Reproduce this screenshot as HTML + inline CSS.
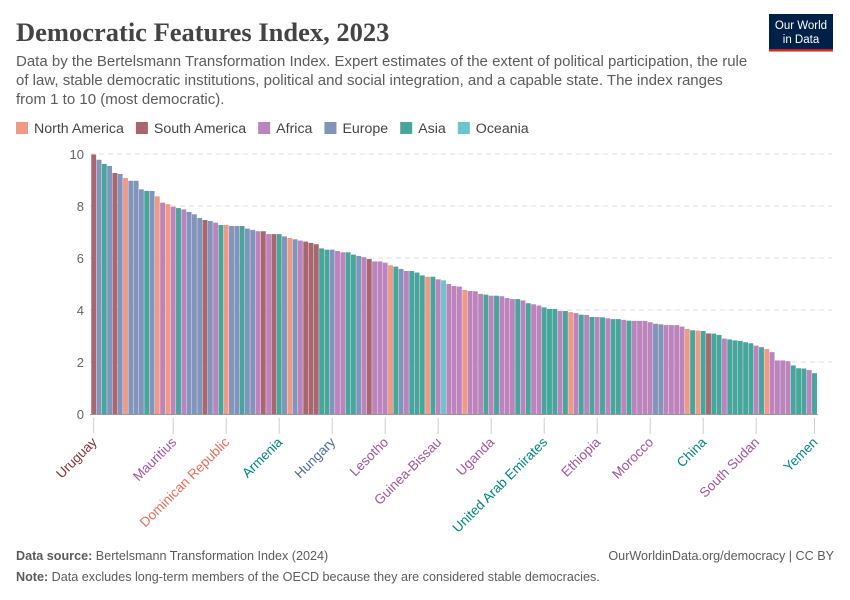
<!DOCTYPE html>
<html><head><meta charset="utf-8"><style>
body{margin:0;width:850px;height:600px;background:#fff;font-family:"Liberation Sans",sans-serif;overflow:hidden}
svg{display:block}
</style></head><body>
<svg id="chart" width="850" height="600">
<text x="16" y="41" font-family="Liberation Serif,serif" font-size="26.5" font-weight="bold" fill="#444">Democratic Features Index, 2023</text>
<g><rect x="769" y="14" width="64" height="37" fill="#002147"/><rect x="769" y="49" width="64" height="2.5" fill="#ce261e"/>
<text x="801" y="29" text-anchor="middle" fill="#fff" font-size="11.5">Our World</text><text x="801" y="43" text-anchor="middle" fill="#fff" font-size="11.5">in Data</text></g>
<g font-size="15" fill="#5b5b5b">
<text x="16" y="66">Data by the Bertelsmann Transformation Index. Expert estimates of the extent of political participation, the rule</text>
<text x="16" y="85">of law, stable democratic institutions, political and social integration, and a capable state. The index ranges</text>
<text x="16" y="104">from 1 to 10 (most democratic).</text></g>
<g id="legend" font-size="14.2" fill="#444"></g>
<g id="grid"></g><g id="bars"></g><g id="labels"></g>
<g font-size="12.6" fill="#5b5b5b">
<text x="16" y="560"><tspan font-weight="bold">Data source:</tspan> Bertelsmann Transformation Index (2024)</text>
<text x="834" y="560" text-anchor="end">OurWorldinData.org/democracy | CC BY</text>
<text x="16" y="581"><tspan font-weight="bold">Note:</tspan> Data excludes long-term members of the OECD because they are considered stable democracies.</text></g>
</svg>
<script>
const regions=["N","S","F","E","A","O"];
const regionNames=["North America","South America","Africa","Europe","Asia","Oceania"];
const barCols={N:"#ee9a87",S:"#a8666e",F:"#bc84bc",E:"#8094bc",A:"#48a59c",O:"#6cc3cc"};
const labCols={N:"#e56e5a",S:"#883039",F:"#a2559c",E:"#4c6a9c",A:"#00847e",O:"#38aaba"};
const barRegions=("SEAESENEEE"+"AENFNFAFEE"+"ESEFANEEAE"+"EFSFSAENEF"+"SSSAAEFFAA"+"EFSFFFNAEF"+"AAANAFOFFF"+"NFFFAFAFFF"+"AFAFFAAAFA"+"NFAFAFAFAA"+"FAFFFFEEFF"+"FFNANASAAF"+"AAAAAFANFF"+"FFAAAFA").split("");
const values=[9.98,9.78,9.62,9.54,9.27,9.23,9.08,8.97,8.97,8.64,8.58,8.58,8.37,8.13,8.07,7.97,7.92,7.87,7.77,7.68,7.54,7.46,7.42,7.36,7.27,7.27,7.23,7.23,7.23,7.13,7.08,7.03,7.03,6.92,6.92,6.92,6.83,6.77,6.72,6.67,6.63,6.58,6.53,6.37,6.32,6.32,6.27,6.22,6.22,6.13,6.08,6.03,5.96,5.87,5.87,5.82,5.72,5.67,5.58,5.5,5.5,5.44,5.33,5.28,5.28,5.18,5.14,5.0,4.92,4.9,4.77,4.73,4.72,4.62,4.59,4.55,4.55,4.53,4.46,4.42,4.42,4.37,4.26,4.22,4.17,4.1,4.04,4.04,3.96,3.96,3.92,3.88,3.82,3.81,3.73,3.73,3.72,3.68,3.65,3.65,3.62,3.59,3.58,3.58,3.58,3.53,3.47,3.45,3.42,3.42,3.42,3.36,3.27,3.22,3.21,3.19,3.1,3.09,3.04,2.9,2.87,2.83,2.81,2.76,2.72,2.63,2.57,2.5,2.38,2.06,2.06,2.03,1.87,1.76,1.75,1.69,1.57];
const labelIdx=[0,15,25,35,45,55,65,75,85,95,105,115,125,136];
const labelNames=["Uruguay","Mauritius","Dominican Republic","Armenia","Hungary","Lesotho","Guinea-Bissau","Uganda","United Arab Emirates","Ethiopia","Morocco","China","South Sudan","Yemen"];
const yTicks=[0,2,4,6,8,10];
const NS="http://www.w3.org/2000/svg";
const x0=91.05,bw=5.3,yb=414,yt=154;
const X=i=>x0+i*bw;
const Y=v=>yb-(yb-yt)*v/10;
function mk(t,a,p){const e=document.createElementNS(NS,t);for(const k in a)e.setAttribute(k,a[k]);p.appendChild(e);return e;}
const grid=document.getElementById('grid');
yTicks.forEach(t=>{
 if(t>0){const l=mk('line',{x1:90,x2:832,y1:Y(t),y2:Y(t),stroke:'#ddd','stroke-dasharray':'5,4'},grid);
 
 }
 const tx=mk('text',{x:84,y:Y(t)+5,'text-anchor':'end','font-size':13,fill:'#666'},grid);tx.textContent=t;
 
 
});
const bars=document.getElementById('bars');
values.forEach((v,i)=>{
 const r=mk('rect',{x:X(i)+0.2,y:Y(v),width:bw-0.4,height:yb-Y(v),fill:barCols[barRegions[i]]},bars);
 
 
});
const ax=mk('line',{x1:90,x2:818,y1:yb+0.5,y2:yb+0.5,stroke:'#999'},bars);


const labs=document.getElementById('labels');
labelIdx.forEach((idx,k)=>{
 const cx=X(idx)+bw/2;
 const tk=mk('line',{x1:cx,x2:cx,y1:418,y2:434,stroke:'#ccc'},labs);
 
 
 const t=mk('text',{transform:`translate(${cx+4},${443}) rotate(-45)`,'text-anchor':'end','font-size':13.5,fill:labCols[barRegions[idx]]},labs);
 t.textContent=labelNames[k];
 
 
});
const leg=document.getElementById('legend');
let lx=16;
regions.forEach((r,i)=>{
 const g=mk('g',{},leg);
 
 
 mk('rect',{x:lx,y:122,width:12,height:12,fill:barCols[r]},g);
 const t=mk('text',{x:lx+18,y:133},g);t.textContent=regionNames[i];
 lx+=18+t.getComputedTextLength()+12;
});
</script>
</body></html>
